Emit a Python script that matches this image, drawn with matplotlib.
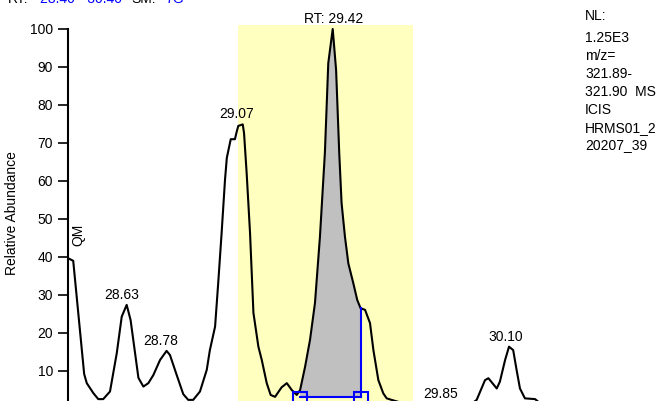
import numpy as np
import matplotlib.pyplot as plt

plt.rcParams['font.family'] = ['Liberation Sans', 'DejaVu Sans']

# chromatogram trace (retention time, relative abundance)
rt = [28.400, 28.420, 28.462, 28.472, 28.497, 28.516, 28.535, 28.561, 28.587, 28.606,
      28.625, 28.640, 28.670, 28.689, 28.708, 28.727, 28.753, 28.778, 28.791, 28.817,
      28.842, 28.861, 28.880, 28.906, 28.932, 28.944, 28.964, 28.976, 28.989, 29.002,
      29.009, 29.024, 29.040, 29.047, 29.053, 29.070, 29.075, 29.085, 29.098, 29.111,
      29.130, 29.143, 29.162, 29.177, 29.194, 29.219, 29.239, 29.258, 29.277, 29.290,
      29.309, 29.328, 29.347, 29.366, 29.385, 29.398, 29.415, 29.428, 29.440, 29.449,
      29.462, 29.475, 29.494, 29.509, 29.522, 29.539, 29.558, 29.571, 29.590, 29.609,
      29.622, 29.641, 29.680, 29.720, 29.760, 29.800, 29.830, 29.850, 29.870, 29.900,
      29.940, 29.967, 29.999, 30.012, 30.044, 30.056, 30.076, 30.091, 30.107, 30.120,
      30.133, 30.152, 30.191, 30.210, 30.260, 30.320, 30.400]
abundance = [39.7, 39.0, 9.2, 6.8, 4.2, 2.6, 2.6, 4.6, 14.7, 24.3,
             27.4, 23.4, 8.2, 5.9, 6.8, 8.9, 12.9, 15.3, 14.2, 8.9,
             3.9, 2.4, 2.4, 4.6, 10.3, 15.5, 21.7, 33.2, 46.3, 60.3,
             66.1, 71.0, 71.0, 73.0, 74.5, 74.9, 72.6, 62.1, 46.3, 25.3,
             16.4, 12.9, 6.8, 3.7, 3.2, 5.7, 6.8, 5.0, 3.7, 5.0,
             11.1, 18.2, 27.9, 45.3, 67.4, 91.0, 100.0, 89.2, 67.4, 54.2,
             45.3, 38.3, 33.1, 28.7, 26.5, 26.1, 22.6, 15.5, 7.6, 4.1,
             2.8, 2.4, 1.6, 1.2, 1.0, 1.1, 1.2, 1.3, 1.1, 0.9,
             1.0, 2.4, 7.6, 8.1, 5.4, 7.2, 12.9, 16.4, 15.5, 10.3,
             5.4, 2.8, 2.6, 1.5, 1.0, 0.9, 1.0]

peak_labels = [28.63, 28.78, 29.07, 29.85, 30.10]
rt_apex = 29.42
window = (29.053, 29.723)        # highlighted RT range
integ = (29.288, 29.524)         # integrated peak limits
integ_base = 3.1

info_lines = ["NL:", "1.25E3", "m/z=", "321.89-", "321.90  MS", "ICIS", "HRMS01_2", "20207_39"]
info_y = [20, 42, 60, 78, 96, 114, 132, 149]

rt = np.array(rt)
abundance = np.array(abundance)

fig = plt.figure(figsize=(6.71, 4.01), dpi=100)
ax = fig.add_axes([68 / 671, 0, 521.6 / 671, 376 / 401])
ax.set_xlim(28.40, 30.40)
ax.set_ylim((409 - 401) / 3.8, (409 - 25) / 3.8)

ax.axvspan(*window, color='#FFFFC0', zorder=0, lw=0)

# filled integrated area
tt = np.linspace(integ[0], integ[1], 200)
ax.fill_between(tt, np.interp(tt, rt, abundance), integ_base,
                color='#C0C0C0', lw=0, zorder=1)
ax.plot(rt, abundance, color='black', lw=1.5, zorder=3)
ax.plot([integ[0], integ[1]], [integ_base, integ_base], color='blue', lw=1.5, zorder=4)
ax.plot([integ[1], integ[1]], [integ_base, np.interp(integ[1], rt, abundance)],
        color='blue', lw=1.5, zorder=4)
ax.plot([integ[0], integ[1]], [2.6, 2.6], ls='none', marker='s', ms=10,
        mfc='none', mec='blue', mew=1.5, zorder=4, clip_on=False)

for p in peak_labels:
    sel = np.abs(rt - p) < 0.02
    h = abundance[sel].max()
    ax.annotate(f"{p:.2f}", (p, h), xytext=(-6, 6), textcoords='offset pixels',
                ha='center', va='baseline', fontsize=10, annotation_clip=False)
ax.annotate(f"RT: {rt_apex:.2f}", (rt_apex, abundance.max()), xytext=(0, 6),
            textcoords='offset pixels', ha='center', va='baseline', fontsize=10,
            annotation_clip=False)
ax.text(28.440, 45.8, "QM", rotation=90, ha='center', va='center', fontsize=10)

for s in ['top', 'right', 'bottom']:
    ax.spines[s].set_visible(False)
ax.spines['left'].set_linewidth(1.5)
ax.spines['left'].set_bounds(0, 100)
ax.set_yticks(range(10, 101, 10))
ax.tick_params(axis='y', length=7.2, width=1.2, pad=3.5, labelsize=10)
ax.set_xticks([])
ax.set_ylabel("Relative Abundance", fontsize=10, labelpad=8)

for txt, y in zip(info_lines, info_y):
    fig.text(585 / 671, 1 - y / 401, txt, fontsize=10, va='baseline')

# clipped header line
hy = 1 - 2.7 / 401
fig.text(8 / 671, hy, "RT:", fontsize=10, va='baseline')
fig.text(40 / 671, hy, "28.40 - 30.40", fontsize=10, va='baseline', color='blue')
fig.text(131 / 671, hy, "SM:", fontsize=10, va='baseline')
fig.text(165 / 671, hy, "7G", fontsize=10, va='baseline', color='blue')

fig.savefig("out.png", dpi=100)
